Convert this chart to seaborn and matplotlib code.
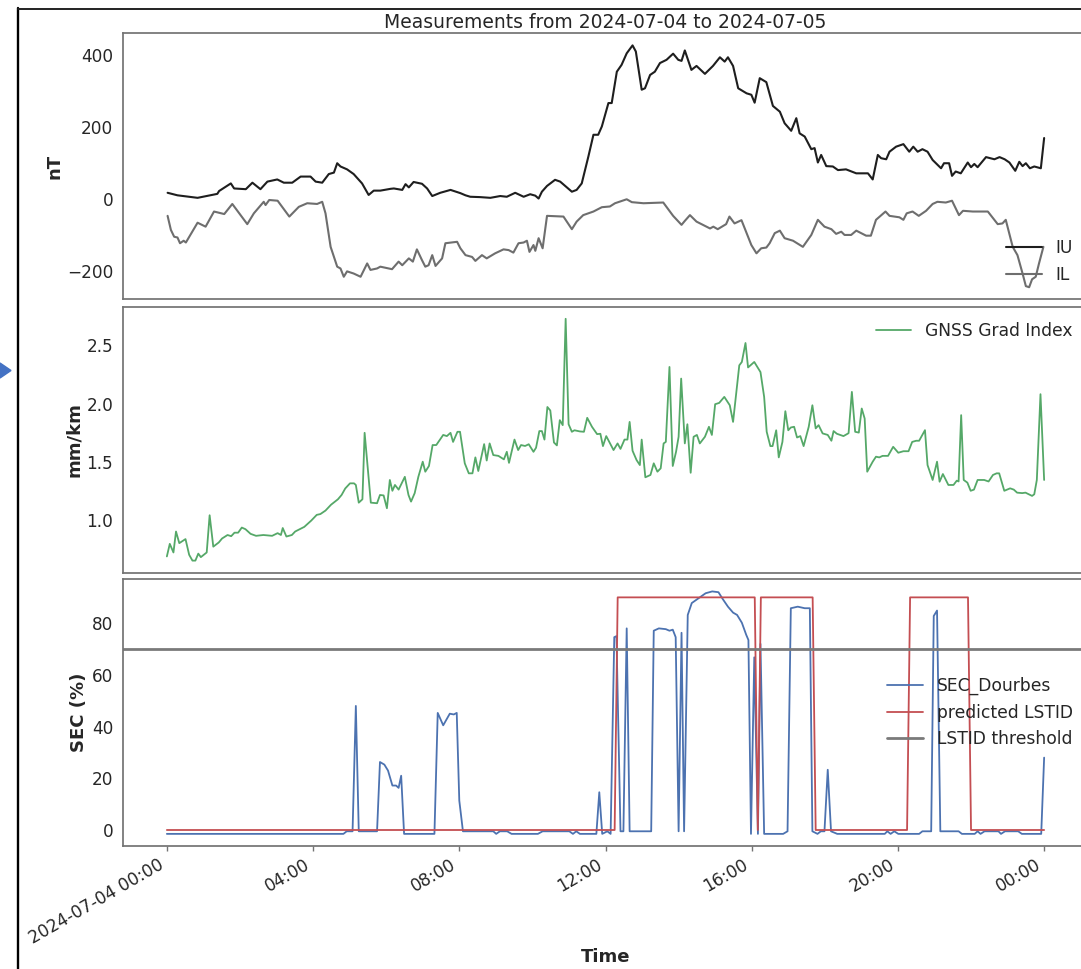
import numpy as np
import pandas as pd
import matplotlib
matplotlib.use("Agg")
import matplotlib.pyplot as plt
import seaborn as sns
from matplotlib.lines import Line2D
from matplotlib.patches import Polygon

START = pd.Timestamp("2024-07-04 00:00")

# ---------------- data (hours after start, value) ----------------
iu_hours = [0.02, 0.29, 0.84, 1.38, 1.43, 1.75, 1.84, 2.16, 2.34, 2.56, 2.75, 3.02, 3.20, 3.43, 3.66,
            3.93, 4.07, 4.25, 4.43, 4.57, 4.66, 4.75, 4.93, 5.11, 5.34, 5.52, 5.66, 5.84, 6.12, 6.21,
            6.44, 6.53, 6.62, 6.75, 6.98, 7.12, 7.26, 7.48, 7.76, 8.03, 8.17, 8.30, 8.57, 8.85, 9.12,
            9.30, 9.53, 9.76, 9.94, 10.08, 10.17, 10.26, 10.40, 10.62, 10.76, 11.08, 11.21, 11.35,
            11.53, 11.67, 11.80, 11.90, 12.08, 12.17, 12.31, 12.44, 12.58, 12.74, 12.83, 12.99, 13.08,
            13.22, 13.35, 13.49, 13.67, 13.85, 13.99, 14.08, 14.17, 14.35, 14.49, 14.72, 14.94, 15.13,
            15.26, 15.35, 15.49, 15.63, 15.86, 15.99, 16.08, 16.22, 16.40, 16.58, 16.77, 16.90, 17.08,
            17.22, 17.31, 17.45, 17.63, 17.72, 17.81, 17.90, 18.04, 18.22, 18.36, 18.58, 18.86, 19.18,
            19.31, 19.45, 19.54, 19.68, 19.77, 19.95, 20.15, 20.31, 20.42, 20.54, 20.67, 20.81, 20.95,
            21.18, 21.26, 21.40, 21.48, 21.58, 21.72, 21.91, 22.00, 22.09, 22.18, 22.41, 22.64, 22.78,
            22.92, 23.05, 23.21, 23.32, 23.41, 23.50, 23.61, 23.73, 23.91, 24.00]
iu_values = [18, 11, 4, 15, 23, 44, 30, 28, 46, 28, 49, 55, 46, 46, 63,
             63, 49, 46, 70, 74, 100, 91, 83, 70, 44, 12, 24, 24, 29, 30,
             26, 42, 33, 48, 43, 30, 9, 18, 26, 17, 11, 7, 6, 4, 9,
             7, 18, 7, 14, 10, 2, 21, 37, 54, 49, 21, 26, 44,
             118, 179, 179, 202, 267, 267, 354, 373, 405, 427, 410, 304, 308,
             345, 354, 378, 387, 404, 387, 384, 413, 359, 370, 348, 370, 394,
             382, 394, 370, 308, 294, 290, 268, 336, 325, 259, 243, 211, 190,
             225, 183, 174, 139, 142, 102, 123, 92, 91, 81, 83, 72, 72,
             55, 123, 114, 111, 132, 146, 153, 132, 146, 132, 139, 132, 109,
             86, 100, 100, 65, 77, 72, 102, 89, 98, 89, 117, 111, 117,
             111, 102, 79, 104, 92, 100, 86, 91, 86, 170]

il_hours = [0.02, 0.11, 0.20, 0.29, 0.36, 0.46, 0.52, 0.84, 1.06, 1.29, 1.57, 1.79, 2.20, 2.38, 2.65,
            2.70, 2.80, 3.03, 3.35, 3.61, 3.84, 4.11, 4.25, 4.34, 4.48, 4.66, 4.75, 4.84, 4.93, 5.11,
            5.30, 5.48, 5.57, 5.75, 5.84, 6.16, 6.34, 6.44, 6.62, 6.73, 6.84, 6.98, 7.07, 7.16, 7.26,
            7.35, 7.53, 7.62, 7.94, 8.03, 8.17, 8.35, 8.44, 8.62, 8.75, 8.98, 9.21, 9.35, 9.48, 9.62,
            9.76, 9.85, 9.92, 10.03, 10.08, 10.17, 10.28, 10.40, 10.85, 11.08, 11.21, 11.39, 11.67,
            11.90, 12.12, 12.26, 12.58, 12.72, 13.04, 13.58, 13.85, 14.08, 14.17, 14.31, 14.49, 14.86,
            14.95, 15.07, 15.30, 15.39, 15.53, 15.72, 15.99, 16.13, 16.26, 16.40, 16.49, 16.63, 16.77,
            16.90, 17.13, 17.40, 17.63, 17.81, 17.99, 18.18, 18.31, 18.45, 18.54, 18.72, 18.86, 19.13,
            19.26, 19.40, 19.66, 19.77, 20.04, 20.15, 20.24, 20.40, 20.57, 20.77, 20.95, 21.08, 21.31,
            21.48, 21.67, 21.78, 22.05, 22.46, 22.73, 22.86, 22.95, 23.14, 23.27, 23.41, 23.50, 23.59,
            23.67, 23.77, 23.86, 23.98]
il_values = [-46, -85, -104, -106, -122, -115, -120, -65, -76, -34, -41, -13, -69, -39, -7,
             -16, -2, -4, -48, -21, -11, -13, -7, -39, -132, -187, -192, -215, -200, -206,
             -215, -178, -196, -192, -187, -194, -173, -183, -164, -173, -139, -169, -187, -183, -155,
             -185, -164, -122, -118, -136, -155, -160, -171, -155, -164, -150, -139, -141, -148, -122,
             -120, -115, -146, -127, -143, -108, -136, -46, -48, -83, -62, -44, -34,
             -22, -20, -11, 0, -8, -11, -9, -46, -71, -60, -44, -62, -81,
             -76, -83, -69, -48, -67, -58, -127, -150, -136, -134, -122, -94, -87,
             -108, -115, -132, -99, -57, -76, -83, -96, -90, -99, -99, -87, -101,
             -101, -57, -34, -46, -50, -57, -39, -34, -46, -32, -13, -7, -9,
             -4, -44, -32, -34, -34, -69, -67, -57, -132, -155, -206, -241, -244,
             -222, -215, -178, -132]

gnss_hours = [0.00, 0.08, 0.18, 0.25, 0.34, 0.51, 0.61, 0.70, 0.78, 0.86, 0.93, 1.09, 1.17, 1.27, 1.42,
              1.51, 1.66, 1.76, 1.85, 1.95, 2.05, 2.15, 2.29, 2.44, 2.64, 2.88, 3.03, 3.12, 3.17, 3.27,
              3.42, 3.51, 3.76, 3.95, 4.10, 4.20, 4.34, 4.49, 4.68, 4.78, 4.88, 5.01, 5.12, 5.17, 5.25,
              5.35, 5.41, 5.58, 5.75, 5.83, 5.93, 6.02, 6.10, 6.17, 6.24, 6.34, 6.51, 6.61, 6.68, 6.78,
              6.88, 7.00, 7.07, 7.17, 7.27, 7.37, 7.56, 7.66, 7.76, 7.83, 7.95, 8.02, 8.15, 8.26, 8.36,
              8.44, 8.52, 8.68, 8.75, 8.83, 8.93, 9.07, 9.22, 9.30, 9.36, 9.51, 9.61, 9.69, 9.80, 9.90,
              10.03, 10.10, 10.19, 10.26, 10.33, 10.41, 10.49, 10.59, 10.67, 10.75, 10.83, 10.91, 10.99,
              11.08, 11.15, 11.30, 11.41, 11.50, 11.63, 11.77, 11.86, 11.93, 12.02, 12.22, 12.33, 12.41,
              12.52, 12.60, 12.66, 12.74, 12.85, 12.94, 12.99, 13.09, 13.23, 13.32, 13.42, 13.51, 13.59,
              13.65, 13.75, 13.84, 13.93, 14.00, 14.07, 14.17, 14.24, 14.33, 14.41, 14.50, 14.58, 14.72,
              14.83, 14.91, 15.00, 15.11, 15.25, 15.40, 15.49, 15.58, 15.66, 15.73, 15.83, 15.90, 16.07,
              16.24, 16.34, 16.41, 16.51, 16.57, 16.67, 16.74, 16.84, 16.92, 17.00, 17.07, 17.16, 17.24,
              17.33, 17.42, 17.56, 17.66, 17.75, 17.83, 17.94, 18.08, 18.18, 18.24, 18.33, 18.51, 18.65,
              18.74, 18.83, 18.93, 19.01, 19.09, 19.16, 19.31, 19.40, 19.49, 19.58, 19.73, 19.87, 20.01,
              20.15, 20.29, 20.39, 20.50, 20.58, 20.74, 20.81, 20.95, 21.07, 21.14, 21.23, 21.38, 21.52,
              21.61, 21.66, 21.73, 21.80, 21.90, 21.99, 22.08, 22.18, 22.36, 22.48, 22.60, 22.70, 22.77,
              22.91, 23.07, 23.17, 23.26, 23.40, 23.49, 23.67, 23.73, 23.80, 23.90, 24.00]
gnss_values = [0.686, 0.794, 0.72, 0.90, 0.80, 0.835, 0.70, 0.65, 0.65, 0.71, 0.68, 0.72, 1.04, 0.77, 0.806,
               0.84, 0.87, 0.86, 0.89, 0.89, 0.934, 0.92, 0.88, 0.863, 0.87, 0.863, 0.886, 0.87, 0.93, 0.857,
               0.87, 0.90, 0.94, 0.994, 1.043, 1.05, 1.08, 1.13, 1.177, 1.214, 1.27, 1.314, 1.314, 1.30, 1.148,
               1.177, 1.748, 1.148, 1.143, 1.214, 1.21, 1.10, 1.343, 1.25, 1.30, 1.26, 1.37, 1.214, 1.157, 1.23,
               1.37, 1.50, 1.414, 1.463, 1.643, 1.643, 1.73, 1.72, 1.748, 1.67, 1.757, 1.757, 1.486, 1.40, 1.40,
               1.537, 1.42, 1.651, 1.51, 1.657, 1.557, 1.55, 1.52, 1.585, 1.49, 1.69, 1.60, 1.643, 1.635, 1.65,
               1.585, 1.62, 1.763, 1.763, 1.69, 1.97, 1.94, 1.665, 1.64, 1.857, 1.814, 2.728, 1.822,
               1.757, 1.77, 1.76, 1.757, 1.877, 1.80, 1.737, 1.74, 1.634, 1.72, 1.60, 1.657, 1.61,
               1.69, 1.69, 1.842, 1.594, 1.514, 1.471, 1.69, 1.366, 1.386, 1.486, 1.414, 1.443, 1.657,
               1.67, 2.314, 1.463, 1.585, 1.714, 2.214, 1.657, 1.822, 1.405, 1.714, 1.73, 1.657, 1.714,
               1.80, 1.73, 1.994, 2.005, 2.057, 1.985, 1.842, 2.10, 2.328, 2.357, 2.52, 2.31, 2.357,
               2.27, 2.057, 1.757, 1.634, 1.634, 1.77, 1.537, 1.67, 1.934, 1.77, 1.794, 1.80, 1.708,
               1.72, 1.634, 1.80, 1.985, 1.786, 1.814, 1.743, 1.73, 1.68, 1.763, 1.74, 1.72, 1.745,
               2.10, 1.757, 1.75, 1.957, 1.871, 1.414, 1.50, 1.543, 1.537, 1.55, 1.55, 1.628, 1.577,
               1.59, 1.59, 1.67, 1.68, 1.68, 1.771, 1.471, 1.343, 1.50, 1.328, 1.394, 1.30, 1.30,
               1.337, 1.33, 1.90, 1.343, 1.32, 1.25, 1.26, 1.343, 1.343, 1.33, 1.386, 1.40, 1.40,
               1.25, 1.271, 1.26, 1.234, 1.23, 1.234, 1.206, 1.22, 1.343, 2.08, 1.343]

sec_hours = [0.00, 4.83, 4.92, 5.08, 5.17, 5.25, 5.75, 5.83, 5.95, 6.05, 6.17, 6.27, 6.34, 6.41, 6.49,
             7.32, 7.41, 7.56, 7.74, 7.85, 7.93, 8.00, 8.10, 8.93, 9.01, 9.11, 9.31, 9.43, 10.15, 10.28,
             11.01, 11.11, 11.20, 11.30, 11.75, 11.83, 11.91, 12.05, 12.14, 12.24, 12.30, 12.41, 12.49,
             12.58, 12.66, 13.25, 13.32, 13.46, 13.65, 13.75, 13.84, 13.92, 14.00, 14.08, 14.15, 14.25,
             14.36, 14.55, 14.74, 14.92, 15.09, 15.21, 15.35, 15.49, 15.60, 15.73, 15.85, 15.91, 15.98,
             16.07, 16.17, 16.24, 16.34, 16.86, 16.98, 17.07, 17.26, 17.45, 17.59, 17.66, 17.80, 17.89,
             17.99, 18.08, 18.17, 18.34, 19.64, 19.71, 19.80, 19.90, 20.01, 20.58, 20.67, 20.91, 20.98,
             21.07, 21.16, 21.66, 21.75, 22.10, 22.18, 22.26, 22.37, 22.75, 22.82, 22.93, 23.29, 23.39,
             23.92, 24.00]
sec_values = [-1.5, -1.5, -0.5, -0.5, 48, -0.5, -0.5, 26.3, 25.3, 23, 17.2, 17.2, 16.3, 21, -1.5,
              -1.5, 45.3, 40.5, 45, 44.7, 45.3, 11.4, -0.5, -0.5, -1.5, -0.5, -0.5, -1.5, -1.5, -0.5,
              -0.5, -1.5, -0.5, -1.5, -1.5, 14.6, -1.5, -0.5, -1.5, 74.6, 75, -0.5, -0.5,
              78, -0.5, -0.5, 77.1, 78, 77.7, 77.1, 77.5, 74.6, -0.5, 76.3, -0.5, 83.2,
              87.8, 89.7, 91.6, 92.3, 92, 89.3, 86.4, 84.1, 83.2, 80.2, 75.5, 73.5, -1.5,
              66.8, -1.5, 72, -1.5, -1.5, -0.5, 85.8, 86.4, 85.8, 85.8, -0.5, -1.5, -0.5,
              -0.5, 23.3, -0.5, -1.5, -1.5, -0.5, -1.5, -0.5, -1.5, -1.5, -0.5, -0.5, 82.8,
              84.9, -0.5, -0.5, -1.5, -1.5, -0.5, -1.5, -0.5, -0.5, -1.5, -0.5, -0.5, -1.5,
              -1.5, 28]

pred_hours = [0.0, 12.25, 12.333, 16.083, 16.167, 16.25, 17.667, 17.75, 20.25, 20.333, 21.917, 22.0, 24.0]
pred_values = [0, 0, 90, 90, 0, 90, 90, 0, 0, 90, 90, 0, 0]

lstid_threshold = 70

nt_ticks = [-200, 0, 200, 400]
tick_hours = [0, 4, 8, 12, 16, 20, 24]
tick_labels = ["2024-07-04 00:00", "04:00", "08:00", "12:00", "16:00", "20:00", "00:00"]
title_text = "Measurements from 2024-07-04 to 2024-07-05"


def to_time(hours):
    return START + pd.to_timedelta(np.asarray(hours, dtype=float), unit="h")


# ---------------- style ----------------
sns.set_theme(style="white")
plt.rcParams.update({
    "font.family": ["DejaVu Sans"],
    "axes.edgecolor": "0.45",
    "axes.linewidth": 1.25,
    "text.color": ".15",
    "axes.labelcolor": ".15",
    "xtick.color": ".15",
    "ytick.color": ".15",
    "xtick.labelsize": 12.2,
    "ytick.labelsize": 12.2,
    "xtick.major.size": 3.5,
    "xtick.major.pad": 3.5,
    "ytick.major.size": 3.5,
    "ytick.major.pad": 3.5,
    "xtick.bottom": True,
    "ytick.left": False,
    "legend.fontsize": 12.3,
    "axes.labelsize": 13,
    "axes.labelweight": "bold",
    "axes.labelpad": 2.5,
})

W, H = 1081, 969
fig = plt.figure(figsize=(W / 100, H / 100), dpi=100)
left = 123 / W
width = (1088 - 123) / W


def axes_at(top_px, bottom_px, **kw):
    return fig.add_axes([left, 1 - bottom_px / H, width, (bottom_px - top_px) / H], **kw)


ax1 = axes_at(33.3, 299.3)
ax2 = axes_at(306.7, 572.7, sharex=ax1)
ax3 = axes_at(579.3, 846.0, sharex=ax1)

# panel 1: magnetometer indices
sns.lineplot(x=to_time(iu_hours), y=iu_values, ax=ax1, color="#1e1e1e", lw=1.5,
             label="IU", estimator=None, sort=False)
sns.lineplot(x=to_time(il_hours), y=il_values, ax=ax1, color="#6e6e6e", lw=1.5,
             label="IL", estimator=None, sort=False)
ax1.set_yticks(nt_ticks)
ax1.set_ylabel("nT")
ax1.set_title(title_text, fontsize=13.5, pad=4, color=".15")
ax1.legend(loc="lower right", frameon=False, handlelength=2.1)

# panel 2: GNSS gradient index
sns.lineplot(x=to_time(gnss_hours), y=gnss_values, ax=ax2, color="#55a868", lw=1.3,
             label="GNSS Grad Index", estimator=None, sort=False)
ax2.set_ylabel("mm/km")
ax2.legend(loc="upper right", frameon=False, handlelength=2.1)

# panel 3: SEC
sns.lineplot(x=to_time(sec_hours), y=sec_values, ax=ax3, color="#4c72b0", lw=1.3,
             label="SEC_Dourbes", estimator=None, sort=False)
sns.lineplot(x=to_time(pred_hours), y=pred_values, ax=ax3, color="#c44e52", lw=1.3,
             label="predicted LSTID", estimator=None, sort=False)
ax3.axhline(lstid_threshold, color="#7a7a7a", lw=2.0, label="LSTID threshold")
ax3.set_ylabel("SEC (%)")
ax3.set_xlabel("Time", labelpad=0.5)
ax3.legend(loc="center right", frameon=False, handlelength=2.1)

for ax in (ax1, ax2):
    ax.set_xlabel("")
    ax.tick_params(axis="x", bottom=False, labelbottom=False)

ax3.set_xticks(to_time(tick_hours))
ax3.set_xticklabels(tick_labels, rotation=30, ha="right")
ax3.tick_params(axis="x", color="0.45", width=1.0)

# screenshot frame decorations
fig.add_artist(Line2D([18 / W, 18 / W], [0, 1 - 8 / H], transform=fig.transFigure,
                      color="black", lw=1.7))
fig.add_artist(Line2D([18 / W, 1], [1 - 9 / H, 1 - 9 / H], transform=fig.transFigure,
                      color="#222222", lw=1.4))
fig.add_artist(Polygon([[0, 1 - 363 / H], [11 / W, 1 - 370.5 / H], [0, 1 - 378 / H]],
                       closed=True, transform=fig.transFigure, color="#4472c4"))

fig.savefig("out.png", dpi=100)
